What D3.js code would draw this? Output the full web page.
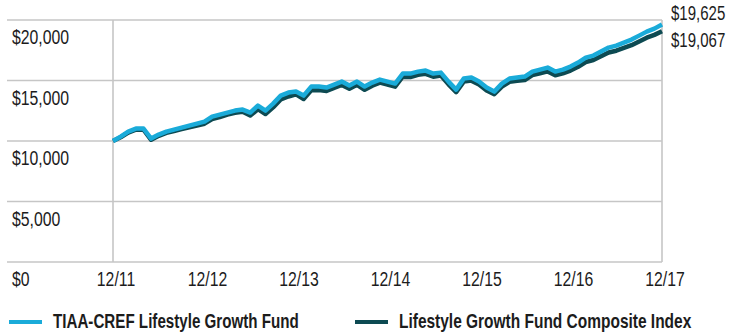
<!DOCTYPE html>
<html>
<head>
<meta charset="utf-8">
<script src="https://cdn.jsdelivr.net/npm/d3@7"></script>
<style>
  html, body { margin: 0; padding: 0; background: #fff; }
  svg { display: block; }
  text { font-family: "Liberation Sans", Arial, sans-serif; }
</style>
</head>
<body>
<svg id="chart" width="729" height="333"></svg>
<script>
// Month-end values of a hypothetical $10,000 investment, 12/11 through 12/17
const fundValues = [
  10000, 10366, 10779, 11027, 11027, 10201, 10532, 10779, 10945, 11110, 11275, 11440,
  11605, 12018, 12184, 12349, 12514, 12597, 12349, 12927, 12514, 13092, 13753, 14000,
  14083, 13753, 14496, 14496, 14414, 14661, 14909, 14579, 14909, 14496, 14826, 15074,
  14909, 14744, 15570, 15570, 15735, 15818, 15570, 15652, 14909, 14248, 15157, 15240,
  14909, 14413, 14083, 14744, 15157, 15240, 15322, 15735, 15900, 16066, 15735, 15900,
  16148, 16479, 16892, 17057, 17388, 17718, 17883, 18131, 18379, 18709, 19039, 19287,
  19625
];
const indexValues = [
  10000, 10310, 10700, 10940, 10930, 10100, 10430, 10670, 10830, 10980, 11130, 11280,
  11430, 11820, 11970, 12180, 12330, 12410, 12100, 12630, 12230, 12780, 13430, 13680,
  13850, 13470, 14190, 14210, 14130, 14390, 14630, 14320, 14640, 14230, 14570, 14820,
  14670, 14490, 15310, 15290, 15470, 15550, 15310, 15410, 14680, 14030, 14910, 14990,
  14670, 14170, 13870, 14500, 14890, 14970, 15040, 15440, 15600, 15750, 15430, 15590,
  15820, 16130, 16530, 16690, 17000, 17310, 17460, 17690, 17920, 18230, 18540, 18770,
  19067
];
const xTickLabels = ["12/11", "12/12", "12/13", "12/14", "12/15", "12/16", "12/17"];
const yTicks = [0, 5000, 10000, 15000, 20000];
const seriesNames = ["TIAA-CREF Lifestyle Growth Fund", "Lifestyle Growth Fund Composite Index"];
const seriesColors = ["#1aabd9", "#0d4a52"];

const svg = d3.select("#chart");
const x = d3.scaleLinear().domain([0, fundValues.length - 1]).range([113, 662]);
const y = d3.scaleLinear().domain([0, 20000]).range([262, 20]);
const grid = "#c6c6c6";
const ink = "#1c1c1c";
const fmt = d3.format("$,");

// text in a horizontally condensed face: anchor at (tx, ty), squeeze by f
function label(parent, tx, ty, str, opts) {
  return parent.append("text")
    .attr("transform", `translate(${tx},${ty}) scale(${opts.squeeze},1)`)
    .attr("text-anchor", opts.anchor || "start")
    .attr("font-size", opts.size)
    .attr("font-weight", opts.weight || "normal")
    .attr("fill", ink)
    .text(str);
}

// horizontal gridlines and value labels
const g = svg.append("g");
g.selectAll("line.h").data(yTicks).join("line")
  .attr("x1", 7).attr("x2", 662)
  .attr("y1", d => y(d)).attr("y2", d => y(d))
  .attr("stroke", grid).attr("stroke-width", 1.6);
yTicks.forEach(v => label(g, 12, y(v) + 24, fmt(v), { size: 19.5, squeeze: 0.81 }));

// vertical frame lines
[0, fundValues.length - 1].forEach(m => {
  g.append("line")
    .attr("x1", x(m)).attr("x2", x(m))
    .attr("y1", y(20000)).attr("y2", y(0))
    .attr("stroke", grid).attr("stroke-width", 1.6);
});

// year labels
xTickLabels.forEach((t, i) =>
  label(g, x(i * 12) + 3, y(0) + 24, t, { size: 19.5, squeeze: 0.81, anchor: "middle" }));

// series lines (index beneath fund)
const line = d3.line().x((d, i) => x(i)).y(d => y(d));
[[indexValues, seriesColors[1]], [fundValues, seriesColors[0]]].forEach(([vals, c]) => {
  svg.append("path").datum(vals)
    .attr("d", line)
    .attr("fill", "none")
    .attr("stroke", c).attr("stroke-width", 4.5)
    .attr("stroke-linejoin", "round");
});

// ending values
const ends = [fundValues[fundValues.length - 1], indexValues[indexValues.length - 1]];
ends.forEach((v, i) => label(svg, 671, i === 0 ? 20 : 47, fmt(v), { size: 19.5, squeeze: 0.77 }));

// legend
const legendX = [9, 355];
seriesNames.forEach((name, i) => {
  svg.append("line")
    .attr("x1", legendX[i]).attr("x2", legendX[i] + 33)
    .attr("y1", 322).attr("y2", 322)
    .attr("stroke", seriesColors[i]).attr("stroke-width", 4);
  label(svg, legendX[i] + 44, 327.5, name,
    { size: 20.5, weight: "bold", squeeze: i === 0 ? 0.74 : 0.755 });
});
</script>
</body>
</html>
